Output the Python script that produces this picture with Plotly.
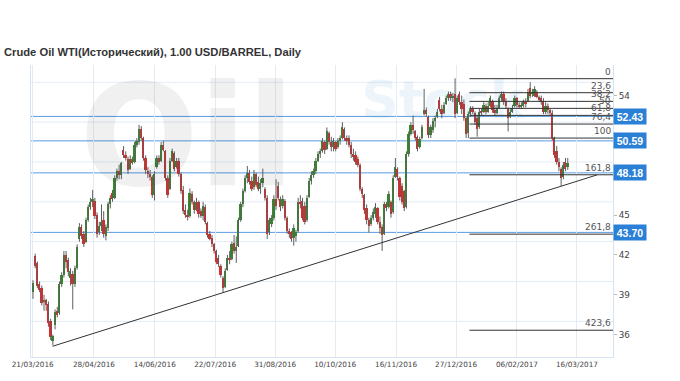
import plotly.graph_objects as go

# ---------------- data ----------------
opens = [39.2,41.9,41.4,39.8,39.5,38.5,38.6,38.3,37.0,35.5,36.7,37.8,37.6,39.8,40.5,42.0,41.6,40.3,40.6,39.8,
         41.0,43.2,44.1,43.6,43.0,44.6,45.6,46.0,46.1,45.0,43.7,44.2,44.6,43.4,44.0,45.8,46.7,46.3,47.8,48.3,
         48.0,49.9,49.5,49.2,48.5,49.2,49.0,50.3,50.5,51.5,50.8,49.3,48.3,48.1,47.9,46.5,48.6,49.3,49.1,50.3,
         49.8,47.8,47.0,49.1,49.7,48.6,49.1,48.1,46.9,45.4,45.0,44.9,46.6,46.0,45.4,46.0,45.3,44.9,45.6,44.4,
         43.6,43.3,42.8,42.3,41.8,41.2,40.3,39.6,40.9,41.8,41.7,42.9,42.3,42.7,44.6,45.8,46.8,47.8,48.2,47.6,
         47.1,48.1,47.5,47.0,47.4,47.0,46.3,43.7,44.3,44.8,46.2,47.2,46.2,45.7,46.1,44.8,43.8,43.7,43.3,43.4,
         43.8,46.0,46.1,45.7,44.6,46.4,47.6,48.0,48.3,49.1,49.6,49.8,50.5,50.0,51.2,50.5,50.1,50.5,50.1,50.6,
         50.8,51.5,50.8,50.8,50.3,49.6,49.5,49.2,48.8,47.0,46.5,45.5,44.6,44.3,44.8,45.1,45.5,44.5,44.1,43.6,
         45.8,45.6,46.0,45.2,47.9,48.5,47.8,47.2,46.8,45.6,49.6,51.1,51.8,51.3,50.9,50.1,50.8,52.6,52.9,52.4,
         51.0,51.4,52.1,52.4,53.7,53.0,52.7,53.4,53.8,54.1,53.8,54.1,52.7,54.1,53.5,53.4,52.3,51.2,52.6,53.0,
         52.7,52.3,51.6,52.8,52.8,53.2,52.8,53.2,53.6,52.9,52.7,53.1,53.8,54.1,53.6,53.0,52.4,52.8,53.2,53.8,
         53.3,53.2,53.2,53.5,53.6,54.6,54.1,54.0,54.3,53.9,53.8,53.6,52.8,53.2,52.9,52.7,50.8,49.8,49.0,48.5,
         47.9,49.0,48.6]
highs = [40.1,42.1,41.5,40.0,39.7,39.0,38.7,38.5,37.2,36.0,37.9,38.1,40.0,40.7,42.3,42.3,41.8,41.0,40.8,41.2,
         42.8,44.4,44.3,43.8,44.8,45.8,46.3,46.9,46.3,45.2,44.5,45.8,45.3,44.3,46.0,46.5,46.9,48.0,48.5,48.8,
         49.0,50.2,49.8,49.4,49.5,49.4,50.5,50.8,51.8,51.7,50.9,49.5,48.6,48.4,48.0,48.3,49.5,49.5,50.5,50.6,
         49.9,48.0,49.3,50.0,49.8,49.3,49.3,48.2,47.2,45.8,45.4,47.0,46.8,46.1,46.3,46.1,45.5,46.0,45.8,44.5,
         43.8,43.5,42.9,42.4,42.0,41.3,40.4,41.0,42.0,42.3,43.0,43.5,43.4,44.8,46.0,47.0,48.0,48.7,48.4,47.9,
         48.4,48.2,47.9,47.7,48.5,47.1,46.5,44.8,45.0,46.5,47.7,47.5,46.4,46.5,46.2,44.9,44.0,43.8,44.3,43.9,
         46.3,46.5,46.3,46.0,46.5,47.8,48.3,48.5,49.3,49.8,50.0,50.8,50.6,51.6,51.3,50.9,50.8,50.6,50.8,51.0,
         52.0,51.6,51.0,51.0,50.5,50.0,49.8,49.4,48.9,47.1,46.6,45.8,44.8,45.0,45.5,45.9,45.6,44.9,44.3,46.0,
         46.0,46.8,46.1,48.0,49.3,48.6,47.9,47.4,46.9,49.8,51.3,52.0,52.5,51.4,51.0,50.9,51.8,54.5,53.1,52.5,
         51.8,52.3,52.5,53.0,53.9,53.3,53.5,54.0,54.3,54.3,54.2,55.3,54.0,54.3,54.0,53.7,52.4,52.8,53.2,53.2,
         52.8,52.5,53.0,53.0,53.5,53.4,53.5,54.0,53.7,53.3,53.3,54.0,54.3,54.3,53.8,53.1,53.0,53.3,54.0,53.9,
         53.5,53.5,53.7,53.8,54.5,55.0,54.5,54.7,54.4,54.0,54.0,53.8,53.5,53.4,53.0,52.9,50.9,50.2,49.3,48.6,
         49.0,49.3,49.3]
lows = [38.7,41.0,39.5,39.2,38.2,37.8,37.8,36.6,35.6,35.2,36.4,37.3,37.5,39.6,40.3,41.0,40.4,39.7,37.9,39.6,
        40.9,43.0,43.2,42.6,42.9,44.5,45.4,45.6,44.7,43.3,43.5,43.8,43.3,43.1,43.8,45.5,46.0,46.2,47.6,47.7,
        47.7,49.3,49.1,48.1,48.4,48.8,48.9,50.1,50.3,50.6,49.1,48.1,47.8,47.6,46.3,46.1,48.5,48.8,49.0,49.8,
        47.6,46.3,46.9,49.0,48.3,48.5,47.9,46.6,45.1,44.8,44.6,44.8,45.8,45.1,45.3,44.8,44.8,44.6,44.3,43.3,
        43.1,42.6,42.1,41.3,41.1,40.3,39.2,39.5,40.8,41.3,41.6,42.1,41.4,42.6,44.5,45.6,46.7,47.4,47.3,46.8,
        46.9,47.1,46.8,46.6,47.1,46.1,43.2,43.5,44.1,44.6,45.4,46.1,45.3,45.5,44.6,43.6,43.3,43.0,42.7,43.0,
        43.7,45.5,44.6,44.3,44.5,46.3,47.3,47.8,48.1,49.0,49.3,49.7,49.6,49.9,50.3,49.8,49.8,49.8,50.0,50.3,
        50.7,50.6,50.3,50.1,49.3,49.1,48.8,48.6,46.8,46.3,45.1,44.3,43.7,44.2,44.6,44.8,44.3,43.6,42.3,43.5,
        45.3,45.5,44.8,45.1,47.8,47.6,46.1,45.8,45.3,45.5,49.4,51.0,51.1,50.6,49.8,50.0,50.7,52.5,52.4,50.8,
        50.8,51.2,51.6,52.3,52.8,52.3,52.6,53.3,53.6,53.6,53.5,52.3,52.6,53.3,52.6,52.1,50.8,50.8,52.4,52.6,
        51.8,50.9,51.5,52.5,52.7,52.6,52.7,53.1,52.7,52.5,52.6,53.0,53.6,53.3,53.0,51.3,52.3,52.7,53.1,53.1,
        53.0,53.0,53.1,53.1,53.5,53.8,53.9,53.9,53.8,53.6,53.3,52.6,52.6,52.6,52.5,50.6,49.3,48.8,48.3,47.2,
        47.7,48.3,48.4]
closes = [39.9,41.2,39.7,39.4,38.4,38.6,38.2,36.9,35.8,35.9,37.7,37.5,39.8,40.5,42.0,41.5,40.7,40.8,39.8,41.0,
          42.6,44.1,43.4,42.8,44.6,45.6,46.0,46.2,44.9,43.6,44.2,44.5,43.6,44.1,45.8,46.3,46.2,47.8,48.3,48.0,
          48.9,49.5,49.3,48.4,49.2,48.9,50.3,50.6,51.5,50.8,49.3,48.4,48.1,47.9,46.5,48.1,49.3,49.0,50.3,49.9,
          47.8,46.5,49.1,49.8,48.5,49.1,48.1,46.8,45.3,45.0,44.9,46.7,46.0,45.4,46.0,45.1,44.9,45.7,44.5,43.5,
          43.2,42.8,42.3,41.5,41.3,40.5,39.5,40.8,41.8,41.6,42.8,42.3,42.6,44.6,45.8,46.8,47.8,48.2,47.5,47.0,
          48.1,47.3,47.0,47.4,47.8,46.3,43.6,44.6,44.8,46.2,45.7,46.3,45.6,46.2,44.8,43.8,43.6,43.2,44.0,43.7,
          46.0,45.8,44.8,44.5,46.3,47.6,48.0,48.3,49.1,49.6,49.8,50.6,49.9,51.3,50.5,50.1,50.6,50.0,50.6,50.8,
          51.6,50.8,50.6,50.3,49.6,49.4,49.0,48.8,47.0,46.6,45.4,44.6,44.2,44.8,45.2,45.6,44.5,44.0,43.5,45.8,
          45.5,46.6,45.1,47.8,48.6,47.9,46.4,46.0,45.5,49.6,51.1,51.8,51.4,50.8,50.0,50.7,51.6,52.9,52.6,51.0,
          51.6,52.1,52.3,52.8,53.0,52.6,53.3,53.8,54.1,53.8,54.0,52.6,53.8,53.5,53.0,52.3,51.1,52.6,53.0,52.8,
          52.0,51.5,52.8,52.7,53.3,52.8,53.2,53.8,52.9,52.7,53.1,53.8,54.1,53.6,53.2,52.3,52.8,53.1,53.8,53.3,
          53.2,53.3,53.5,53.4,54.3,54.0,54.3,54.5,53.9,53.7,53.5,52.8,53.2,52.9,52.7,50.8,49.5,49.0,48.6,47.8,
          48.8,48.5,48.9]

date_labels = ["21/03/2016", "28/04/2016", "14/06/2016", "22/07/2016", "31/08/2016",
               "10/10/2016", "16/11/2016", "27/12/2016", "06/02/2017", "16/03/2017"]
price_ticks = [36, 39, 42, 45, 54]          # 48 and 51 are hidden behind the price boxes
grid_levels = [37, 40, 43, 46, 49, 52, 55]

level_values = [52.43, 50.59, 48.18, 43.70]
fib_high = 55.27
fib_low = 50.80
fib_ratios = [0, 23.6, 38.2, 50, 61.8, 76.4, 100, 161.8, 261.8, 423.6]
fib_texts = ["0", "23,6", "38,2", "50", "61,8", "76,4", "100", "161,8", "261,8", "423,6"]

trend_x = [8.9, 255.3]
trend_y = [35.13, 48.03]

title_text = "Crude Oil WTI(Исторический), 1.00 USD/BARREL, Daily"

# ---------------- layout geometry ----------------
W, H = 680, 381
PL, PR, PT, PB = 21, 613, 65, 358
N = len(closes)
FIRST_PX, LAST_PX = 23, 567
step = (LAST_PX - FIRST_PX) / (N - 1)
x_range = [(PL - FIRST_PX) / step, (PR - FIRST_PX) / step]
y_range = [34.32, 56.30]
tick_px = [22.7, 85, 146.9, 208.4, 269.4, 330.4, 392.3, 453.4, 515.3, 576.3]
tick_idx = [(p - FIRST_PX) / step for p in tick_px]


def fx(px):
    return (px - PL) / (PR - PL)


def fy(py):
    return (PB - py) / (PB - PT)


def dx(px):
    return (px - FIRST_PX) / step


def dy(py):
    return y_range[0] + (PB - py) / (PB - PT) * (y_range[1] - y_range[0])


UP, DOWN, WICK = "#2f8f22", "#f22222", "#5e5e5e"
idx = list(range(N))

fig = go.Figure()

# watermark (behind everything)
fig.add_trace(go.Scatter(x=[dx(180)], y=[dy(150)], mode="text", text=["<b>Oil</b>"],
                         textfont=dict(family="DejaVu Sans", size=140, color="rgba(0,0,0,0.06)"),
                         hoverinfo="skip", showlegend=False, cliponaxis=True))
fig.add_trace(go.Scatter(x=[dx(440)], y=[dy(105)], mode="text", text=["<b>Stock</b>"],
                         textfont=dict(family="DejaVu Sans", size=52, color="rgba(60,140,210,0.09)"),
                         hoverinfo="skip", showlegend=False, cliponaxis=True))

# wicks
wx, wy = [], []
for i in idx:
    wx += [i, i, None]
    wy += [lows[i], highs[i], None]
fig.add_trace(go.Scatter(x=wx, y=wy, mode="lines", line=dict(color=WICK, width=1),
                         hoverinfo="skip", showlegend=False))

# bodies
base = [min(o, c) for o, c in zip(opens, closes)]
height = [max(abs(c - o), 0.08) for o, c in zip(opens, closes)]
cols = [UP if c >= o else DOWN for o, c in zip(opens, closes)]
fig.add_trace(go.Bar(x=idx, y=height, base=base, marker=dict(color=cols, line=dict(width=0)),
                     width=0.8, showlegend=False, hoverinfo="skip"))

# trend line
fig.add_trace(go.Scatter(x=trend_x, y=trend_y, mode="lines", line=dict(color="#333333", width=1),
                         hoverinfo="skip", showlegend=False))

shapes = []
for g in grid_levels:
    shapes.append(dict(type="line", xref="paper", x0=0, x1=1, yref="y", y0=g, y1=g,
                       line=dict(color="#e3ecf5", width=1), layer="below"))
for v in level_values:
    shapes.append(dict(type="line", xref="paper", x0=0, x1=1, yref="y", y0=v, y1=v,
                       line=dict(color="#5a9be0", width=1), layer="below"))

annotations = []
fib_x0 = fx(467)
for r, t in zip(fib_ratios, fib_texts):
    lv = fib_high - r / 100.0 * (fib_high - fib_low)
    shapes.append(dict(type="line", xref="paper", x0=fib_x0, x1=1, yref="y", y0=lv, y1=lv,
                       line=dict(color="#333333", width=1), layer="above"))
    annotations.append(dict(xref="paper", x=fx(612), yref="y", y=lv, xanchor="right", yanchor="bottom",
                            text=t, showarrow=False, borderpad=0, yshift=1,
                            font=dict(family="DejaVu Sans", size=9, color="#555555")))

for v in level_values:
    annotations.append(dict(xref="paper", x=1, yref="y", y=v, xanchor="left", yanchor="middle",
                            text="<b>%.2f</b>" % v, showarrow=False, bgcolor="#2a80d6",
                            width=32, height=15, borderpad=0,
                            font=dict(family="Liberation Sans", size=10.5, color="white")))

annotations.append(dict(xref="paper", yref="paper", x=fx(-8), y=fy(52), xanchor="left", yanchor="middle",
                        text="<b>" + title_text + "</b>", showarrow=False,
                        font=dict(family="Liberation Sans", size=11.2, color="#333333")))

fig.update_layout(
    width=W, height=H,
    margin=dict(l=PL, r=W - PR, t=PT, b=H - PB, pad=0),
    paper_bgcolor="white", plot_bgcolor="white",
    bargap=0, showlegend=False,
    shapes=shapes, annotations=annotations,
    xaxis=dict(range=x_range, tickmode="array", tickvals=tick_idx, ticktext=date_labels,
               showgrid=True, gridcolor="#e3ecf5", gridwidth=1, zeroline=False,
               showline=True, linecolor="#d6e3f0", ticks="", ticklen=0,
               tickfont=dict(family="DejaVu Sans", size=7.3, color="#444444")),
    yaxis=dict(range=y_range, side="right", tickmode="array", tickvals=price_ticks,
               ticktext=[str(t) for t in price_ticks], showgrid=False, zeroline=False,
               showline=True, mirror=True, linecolor="#d6e3f0", ticks="outside", ticklen=3,
               tickcolor="#bbbbbb",
               tickfont=dict(family="DejaVu Sans", size=8.8, color="#444444")),
)

fig.write_html("out.html")
